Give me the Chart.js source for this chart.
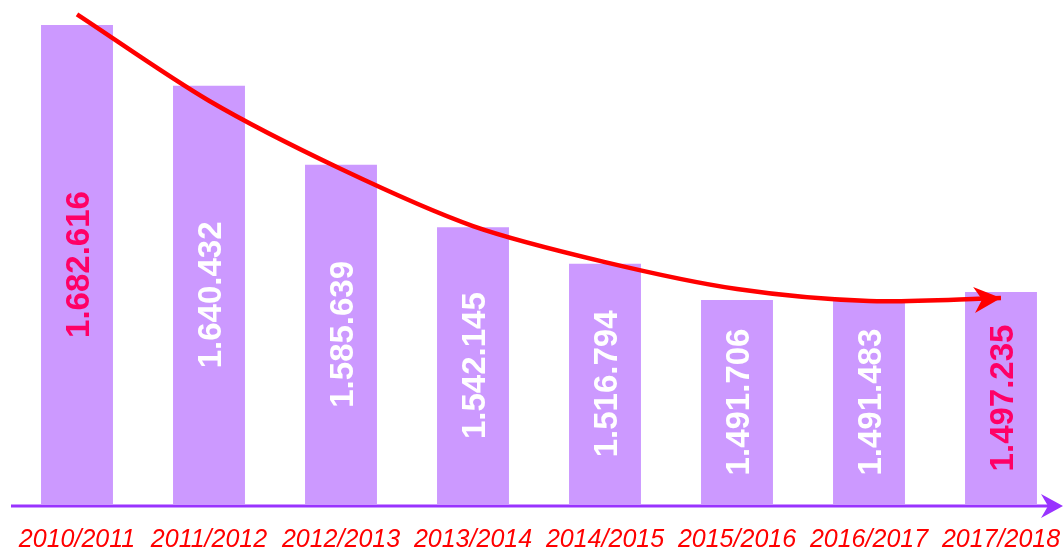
<!DOCTYPE html>
<html>
<head>
<meta charset="utf-8">
<script src="https://cdn.jsdelivr.net/npm/chart.js@4"></script>
<style>
  html, body { margin: 0; padding: 0; background: #fff; overflow: hidden; }
  #wrap { width: 1067px; height: 552px; position: relative; }
</style>
</head>
<body>
<div id="wrap"><canvas id="chart"></canvas></div>
<script>
const years = ["2010/2011", "2011/2012", "2012/2013", "2013/2014", "2014/2015", "2015/2016", "2016/2017", "2017/2018"];
const students = [1682616, 1640432, 1585639, 1542145, 1516794, 1491706, 1491483, 1497235];
// hand-drawn trend arrow
const trend = [1690000, 1630000, 1582600, 1543000, 1518000, 1499300, 1491000, 1493000];
const labelColors = ["#ff0066", "#ffffff", "#ffffff", "#ffffff", "#ffffff", "#ffffff", "#ffffff", "#ff0066"];

const fmt = v => String(v).replace(/\B(?=(\d{3})+(?!\d))/g, ".");

const overlay = {
  id: "overlay",
  afterDraw(chart) {
    const ctx = chart.ctx;
    const area = chart.chartArea;

    // values written inside the bars (bars are cut at the axis, so centre on the visible part)
    const bars = chart.getDatasetMeta(1).data;
    bars.forEach((bar, i) => {
      const p = bar.getProps(["x", "y", "base"], true);
      const bottom = Math.min(p.base, area.bottom);
      ctx.save();
      ctx.translate(p.x, (p.y + bottom) / 2);
      ctx.rotate(-Math.PI / 2);
      ctx.font = "bold 33px 'Liberation Sans', sans-serif";
      ctx.fillStyle = labelColors[i];
      ctx.textAlign = "center";
      ctx.textBaseline = "middle";
      ctx.fillText(fmt(students[i]), 0, 3);
      ctx.restore();
    });

    // trend arrow head
    const pts = chart.getDatasetMeta(0).data;
    const a = pts[pts.length - 2], b = pts[pts.length - 1];
    const ang = Math.atan2(b.y - a.y, b.x - a.x) - 0.05;
    ctx.save();
    ctx.translate(b.x, b.y);
    ctx.rotate(ang);
    ctx.fillStyle = "#ff0000";
    ctx.beginPath();
    ctx.moveTo(0, 0);
    ctx.lineTo(-27, -13);
    ctx.lineTo(-19, 0);
    ctx.lineTo(-27, 13);
    ctx.closePath();
    ctx.fill();
    ctx.restore();

    // x axis line with arrow
    const y = area.bottom + 2;
    const end = chart.width - 4;
    ctx.save();
    ctx.strokeStyle = "#9933ff";
    ctx.fillStyle = "#9933ff";
    ctx.lineWidth = 3;
    ctx.beginPath();
    ctx.moveTo(area.left, y);
    ctx.lineTo(end - 12, y);
    ctx.stroke();
    ctx.beginPath();
    ctx.moveTo(end, y);
    ctx.lineTo(end - 22, y - 12);
    ctx.lineTo(end - 15, y);
    ctx.lineTo(end - 22, y + 12);
    ctx.closePath();
    ctx.fill();
    ctx.restore();
  }
};

new Chart(document.getElementById("chart"), {
  data: {
    labels: years,
    datasets: [
      {
        type: "line",
        data: trend,
        borderColor: "#ff0000",
        borderWidth: 4.5,
        pointRadius: 0,
        tension: 0.3,
        fill: false
      },
      {
        type: "bar",
        data: students,
        backgroundColor: "#cc99ff",
        categoryPercentage: 1,
        barPercentage: 0.545
      }
    ]
  },
  options: {
    responsive: true,
    maintainAspectRatio: false,
    animation: false,
    layout: { autoPadding: false, padding: { left: 11, right: 0, top: 0, bottom: 0 } },
    plugins: { legend: { display: false }, tooltip: { enabled: false } },
    scales: {
      x: {
        grid: { display: true, drawOnChartArea: false, drawTicks: true, tickLength: 25, color: "rgba(0,0,0,0)" },
        border: { display: false },
        ticks: {
          color: "#ff0000",
          padding: 0,
          maxRotation: 0,
          autoSkip: false,
          font: { family: "'Liberation Sans'", size: 25, style: "italic", lineHeight: 0.92 }
        }
      },
      y: {
        display: false,
        min: 1350000,
        max: 1700000
      }
    }
  },
  plugins: [overlay]
});
</script>
</body>
</html>
